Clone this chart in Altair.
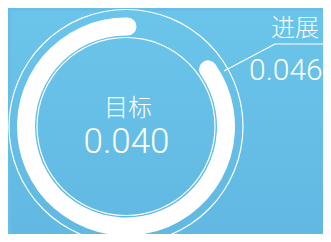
import math
import altair as alt
import pandas as pd

# ---- data ----
labels = ["目标", "进展"]
values = [0.040, 0.046]
arc_deg = [50, 366]          # filled ring: start / end angle (degrees, clockwise from 12 o'clock)

# chart area is the window minus the page's 8px margin
W, H = 315, 226
OFF = 8                      # page margin: reference pixel = chart pixel + 8
CX, CY = 123 - OFF, 123.5 - OFF

target_df = pd.DataFrame({"label": [labels[0]], "value": [values[0]]})
progress_df = pd.DataFrame({"label": [labels[1]], "value": [values[1]]})
arc_df = pd.DataFrame({"start": [arc_deg[0]], "end": [arc_deg[1]]})
one = pd.DataFrame({"k": [0]})

bg = alt.Chart(one).mark_rect(
    color=alt.LinearGradient(
        gradient="linear",
        stops=[alt.GradientStop(color="#6bc4e9", offset=0),
               alt.GradientStop(color="#61b9e3", offset=1)],
        x1=0, x2=0, y1=0, y2=1,
    )
).encode(x=alt.value(0), x2=alt.value(W), y=alt.value(0), y2=alt.value(H))

outer_ring = alt.Chart(one).mark_arc(
    radius=117.6, radius2=116.4, theta=0, theta2=2 * math.pi, color="white"
).encode(x=alt.value(CX), y=alt.value(CY))

inner_ring = alt.Chart(one).mark_arc(
    radius=89.6, radius2=88.4, theta=0, theta2=2 * math.pi, color="white"
).encode(x=alt.value(CX), y=alt.value(CY))

thick_arc = alt.Chart(arc_df).mark_arc(
    radius=109, radius2=91, cornerRadius=9, color="white"
).encode(
    theta=alt.Theta("start:Q", scale=alt.Scale(domain=[0, 360], range=[0, 2 * math.pi])),
    theta2="end:Q",
    x=alt.value(CX), y=alt.value(CY),
)

leader1 = alt.Chart(one).mark_rule(color="white", strokeWidth=1.2).encode(
    x=alt.value(221 - OFF), y=alt.value(68 - OFF),
    x2=alt.value(272 - OFF), y2=alt.value(41 - OFF)
)
leader2 = alt.Chart(one).mark_rule(color="white", strokeWidth=1.2).encode(
    x=alt.value(272 - OFF), y=alt.value(41 - OFF),
    x2=alt.value(W), y2=alt.value(41 - OFF)
)

t_label = alt.Chart(target_df).mark_text(
    font="Noto Sans CJK SC", fontSize=24, fontWeight=300, color="white",
    align="center", baseline="alphabetic"
).encode(text="label:N", x=alt.value(125 - OFF), y=alt.value(113 - OFF))

t_value = alt.Chart(target_df).mark_text(
    font="Roboto", fontWeight=300, fontSize=35, color="white",
    align="center", baseline="alphabetic"
).encode(text=alt.Text("value:Q", format=".3f"), x=alt.value(123.5 - OFF), y=alt.value(150 - OFF))

p_label = alt.Chart(progress_df).mark_text(
    font="Noto Sans CJK SC", fontSize=24, fontWeight=300, color="white",
    align="left", baseline="alphabetic"
).encode(text="label:N", x=alt.value(268 - OFF), y=alt.value(33 - OFF))

p_value = alt.Chart(progress_df).mark_text(
    font="Roboto", fontWeight=300, fontSize=30, color="white",
    align="left", baseline="alphabetic"
).encode(text=alt.Text("value:Q", format=".3f"), x=alt.value(246 - OFF), y=alt.value(77 - OFF))

chart = alt.layer(
    bg, outer_ring, inner_ring, thick_arc, leader1, leader2, t_label, t_value, p_label, p_value
).properties(
    width=W, height=H,
    autosize=alt.AutoSizeParams(type="fit", contains="padding"),
    padding=0,
    background="#66bee6",
).configure_view(stroke=None)

chart.save("out.html", embed_options={"renderer": "svg", "actions": False})
